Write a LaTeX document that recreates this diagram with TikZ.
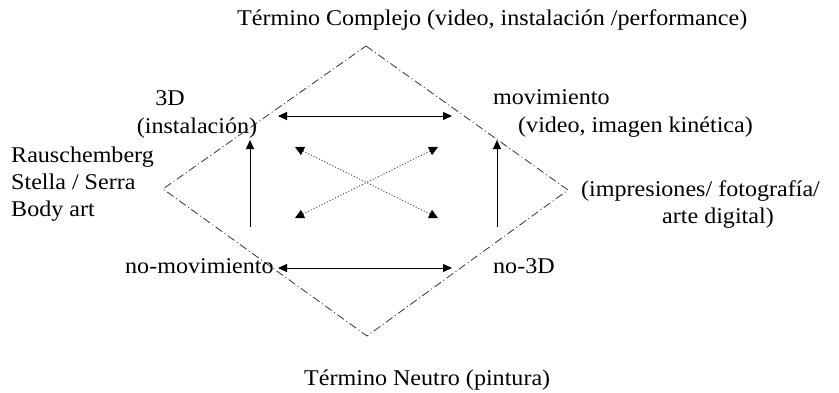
\documentclass[tikz,border=0pt]{standalone}
\usepackage{fontspec}
\setmainfont[FakeStretch=1.07]{Liberation Serif}
\usetikzlibrary{arrows.meta}
\tikzset{
  lbl/.style={inner sep=0pt, font=\fontsize{22.5}{27}\selectfont},
  dd/.style={line width=0.8pt, dash pattern=on 8pt off 3pt on 1pt off 3pt, black!80},
  solidarr/.style={line width=0.9pt, {Triangle[length=9pt,width=8pt]}-{Triangle[length=9pt,width=8pt]}},
  uparr/.style={line width=0.9pt, -{Triangle[length=9pt,width=8pt]}},
  dotarr/.style={line width=1pt, dotted, black!70, {Triangle[length=9pt,width=9pt,black]}-{Triangle[length=9pt,width=9pt,black]}}
}
\begin{document}
\begin{tikzpicture}[x=1pt,y=-1pt]
\useasboundingbox (0,0) rectangle (839,392);
% diamond
\coordinate (T) at (366,46);
\coordinate (L) at (163,189);
\coordinate (R) at (568,190);
\coordinate (B) at (367,336);
\draw[dd] (T) -- (R) -- (B) -- (L) -- cycle;
% arrow endpoints
\coordinate (a1) at (278,116);
\coordinate (a2) at (452,116);
\coordinate (b1) at (278,268);
\coordinate (b2) at (452,268);
\coordinate (lv0) at (250,227);
\coordinate (lv1) at (250,140);
\coordinate (rv0) at (497,227);
\coordinate (rv1) at (497,140);
\coordinate (d1) at (295,147);
\coordinate (d2) at (438,218);
\coordinate (d3) at (295,218);
\coordinate (d4) at (438,147);
\draw[solidarr] (a1) -- (a2);
\draw[solidarr] (b1) -- (b2);
\draw[uparr] (lv0) -- (lv1);
\draw[uparr] (rv0) -- (rv1);
\draw[dotarr] (d1) -- (d2);
\draw[dotarr] (d3) -- (d4);
% texts
\node[lbl, anchor=base west] (title) at (237,25) {Término Complejo (video, instalación /performance)};
\node[lbl, anchor=base] (tres) at (170,105) {3D};
\node[lbl, anchor=base] (inst) at (197,133) {(instalación)};
\node[lbl, anchor=base west] (rau) at (11,162) {Rauschemberg};
\node[lbl, anchor=base west] (ste) at (11,189) {Stella / Serra};
\node[lbl, anchor=base west] (bod) at (11,216) {Body art};
\node[lbl, anchor=base west] (mov) at (493,104) {movimiento};
\node[lbl, anchor=base west] (vid) at (518,132) {(video, imagen kinética)};
\node[lbl, anchor=base west] (imp) at (581,196) {(impresiones/ fotografía/};
\node[lbl, anchor=base east] (arte) at (774,223) {arte digital)};
\node[lbl, anchor=base west] (nomov) at (125,273) {no-movimiento};
\node[lbl, anchor=base west] (no3d) at (493,273) {no-3D};
\node[lbl, anchor=base west] (neutro) at (304,385) {Término Neutro (pintura)};
\end{tikzpicture}
\end{document}
